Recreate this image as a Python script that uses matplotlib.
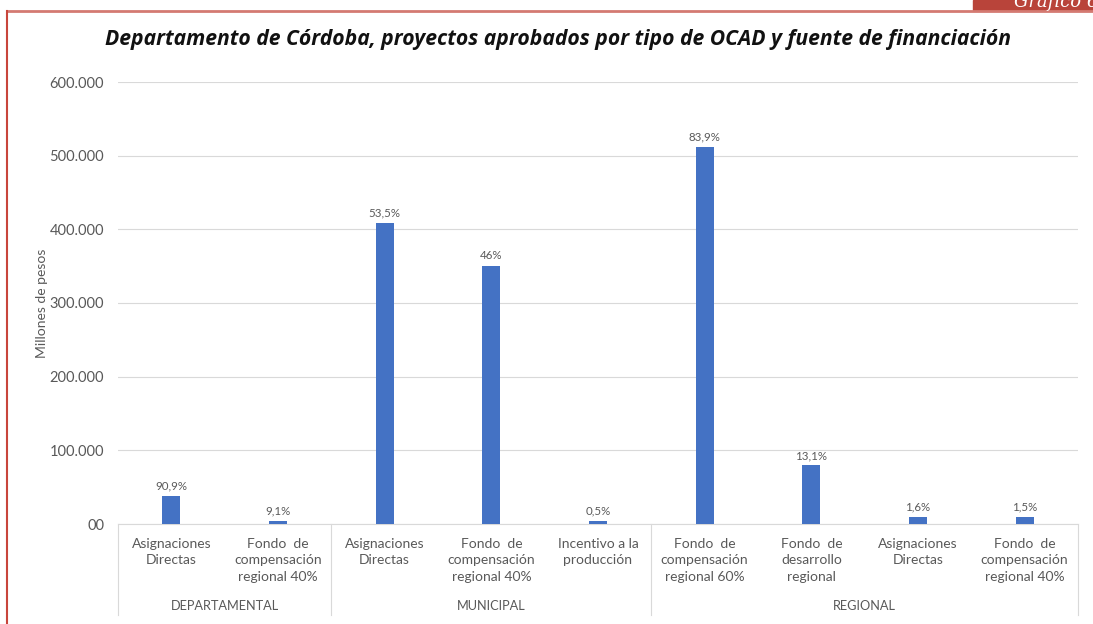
import numpy as np
import matplotlib.pyplot as plt
from matplotlib.patches import Rectangle
from matplotlib.lines import Line2D

# data
groups = ["DEPARTAMENTAL", "MUNICIPAL", "REGIONAL"]
group_sizes = [2, 3, 4]
categories = [
    "Asignaciones\nDirectas",
    "Fondo  de\ncompensación\nregional 40%",
    "Asignaciones\nDirectas",
    "Fondo  de\ncompensación\nregional 40%",
    "Incentivo a la\nproducción",
    "Fondo  de\ncompensación\nregional 60%",
    "Fondo  de\ndesarrollo\nregional",
    "Asignaciones\nDirectas",
    "Fondo  de\ncompensación\nregional 40%",
]
values = [38000, 3800, 408500, 350500, 3800, 511500, 79500, 9800, 9200]
pct_labels = ["90,9%", "9,1%", "53,5%", "46%", "0,5%", "83,9%", "13,1%", "1,6%", "1,5%"]
yticks = [0, 100000, 200000, 300000, 400000, 500000, 600000]
ytick_labels = ["00", "100.000", "200.000", "300.000", "400.000", "500.000", "600.000"]

W, H = 1093, 624
fig = plt.figure(figsize=(W / 100, H / 100), dpi=100)
txt = "#595959"
font = "Lato"

# red frame and corner tab (the tab text is cut by the page edge, as in the source)
fig.add_artist(Rectangle((973 / W, 1 - 10 / H), 120 / W, 10 / H, color="#b9443a",
                         transform=fig.transFigure))
fig.text(1014 / W, 1 - 1 / H, "Gráfico 6", color="white", fontsize=13, style="italic",
         family="DejaVu Serif", va="center", ha="left")
fig.add_artist(Line2D([7 / W, 1], [1 - 11 / H, 1 - 11 / H], color="#d47a72", lw=2))
fig.add_artist(Line2D([7 / W, 7 / W], [0, 1 - 11 / H], color="#c8453b", lw=1.5))

fig.text(558 / W, 1 - 39 / H,
         "Departamento de Córdoba, proyectos aprobados por tipo de OCAD y fuente de financiación",
         ha="center", va="center", fontsize=15.2, fontweight="bold", style="italic",
         family="Open Sans", color="#111111")

ax = fig.add_axes([118 / W, 100 / H, 960 / W, 442 / H])
x = np.arange(len(values))
ax.bar(x, values, width=0.17, color="#4472c4", zorder=3)
for xi, v, lab in zip(x, values, pct_labels):
    ax.text(xi, v + 6000, lab, ha="center", va="bottom", fontsize=8.3, color=txt, family=font)

ax.set_xlim(-0.5, len(values) - 0.5)
ax.set_ylim(0, 600000)
ax.set_yticks(yticks)
ax.set_yticklabels(ytick_labels, family=font, fontsize=10.5, color=txt)
ax.yaxis.grid(True, color="#d9d9d9", lw=0.8, zorder=0)
ax.tick_params(axis="y", length=0, pad=10)
ax.set_ylabel("Millones de pesos", family=font, fontsize=10, color=txt, labelpad=1)
for s in ["top", "right", "left"]:
    ax.spines[s].set_visible(False)
ax.spines["bottom"].set_color("#d9d9d9")

ax.set_xticks(x)
ax.set_xticklabels(categories, family=font, fontsize=10, color=txt, linespacing=1.45)
ax.tick_params(axis="x", length=0, pad=10)

# group separators and labels below the axis
tr = ax.get_xaxis_transform()
bounds = np.concatenate([[0], np.cumsum(group_sizes)]) - 0.5
for b in bounds:
    ax.add_line(Line2D([b, b], [0, -0.206], transform=tr, color="#d9d9d9", lw=0.8, clip_on=False))
for g, lo, hi in zip(groups, bounds[:-1], bounds[1:]):
    ax.text((lo + hi) / 2, -0.185, g, transform=tr, ha="center", va="center",
            fontsize=9.2, color=txt, family=font)

fig.savefig("out.png", dpi=100)
